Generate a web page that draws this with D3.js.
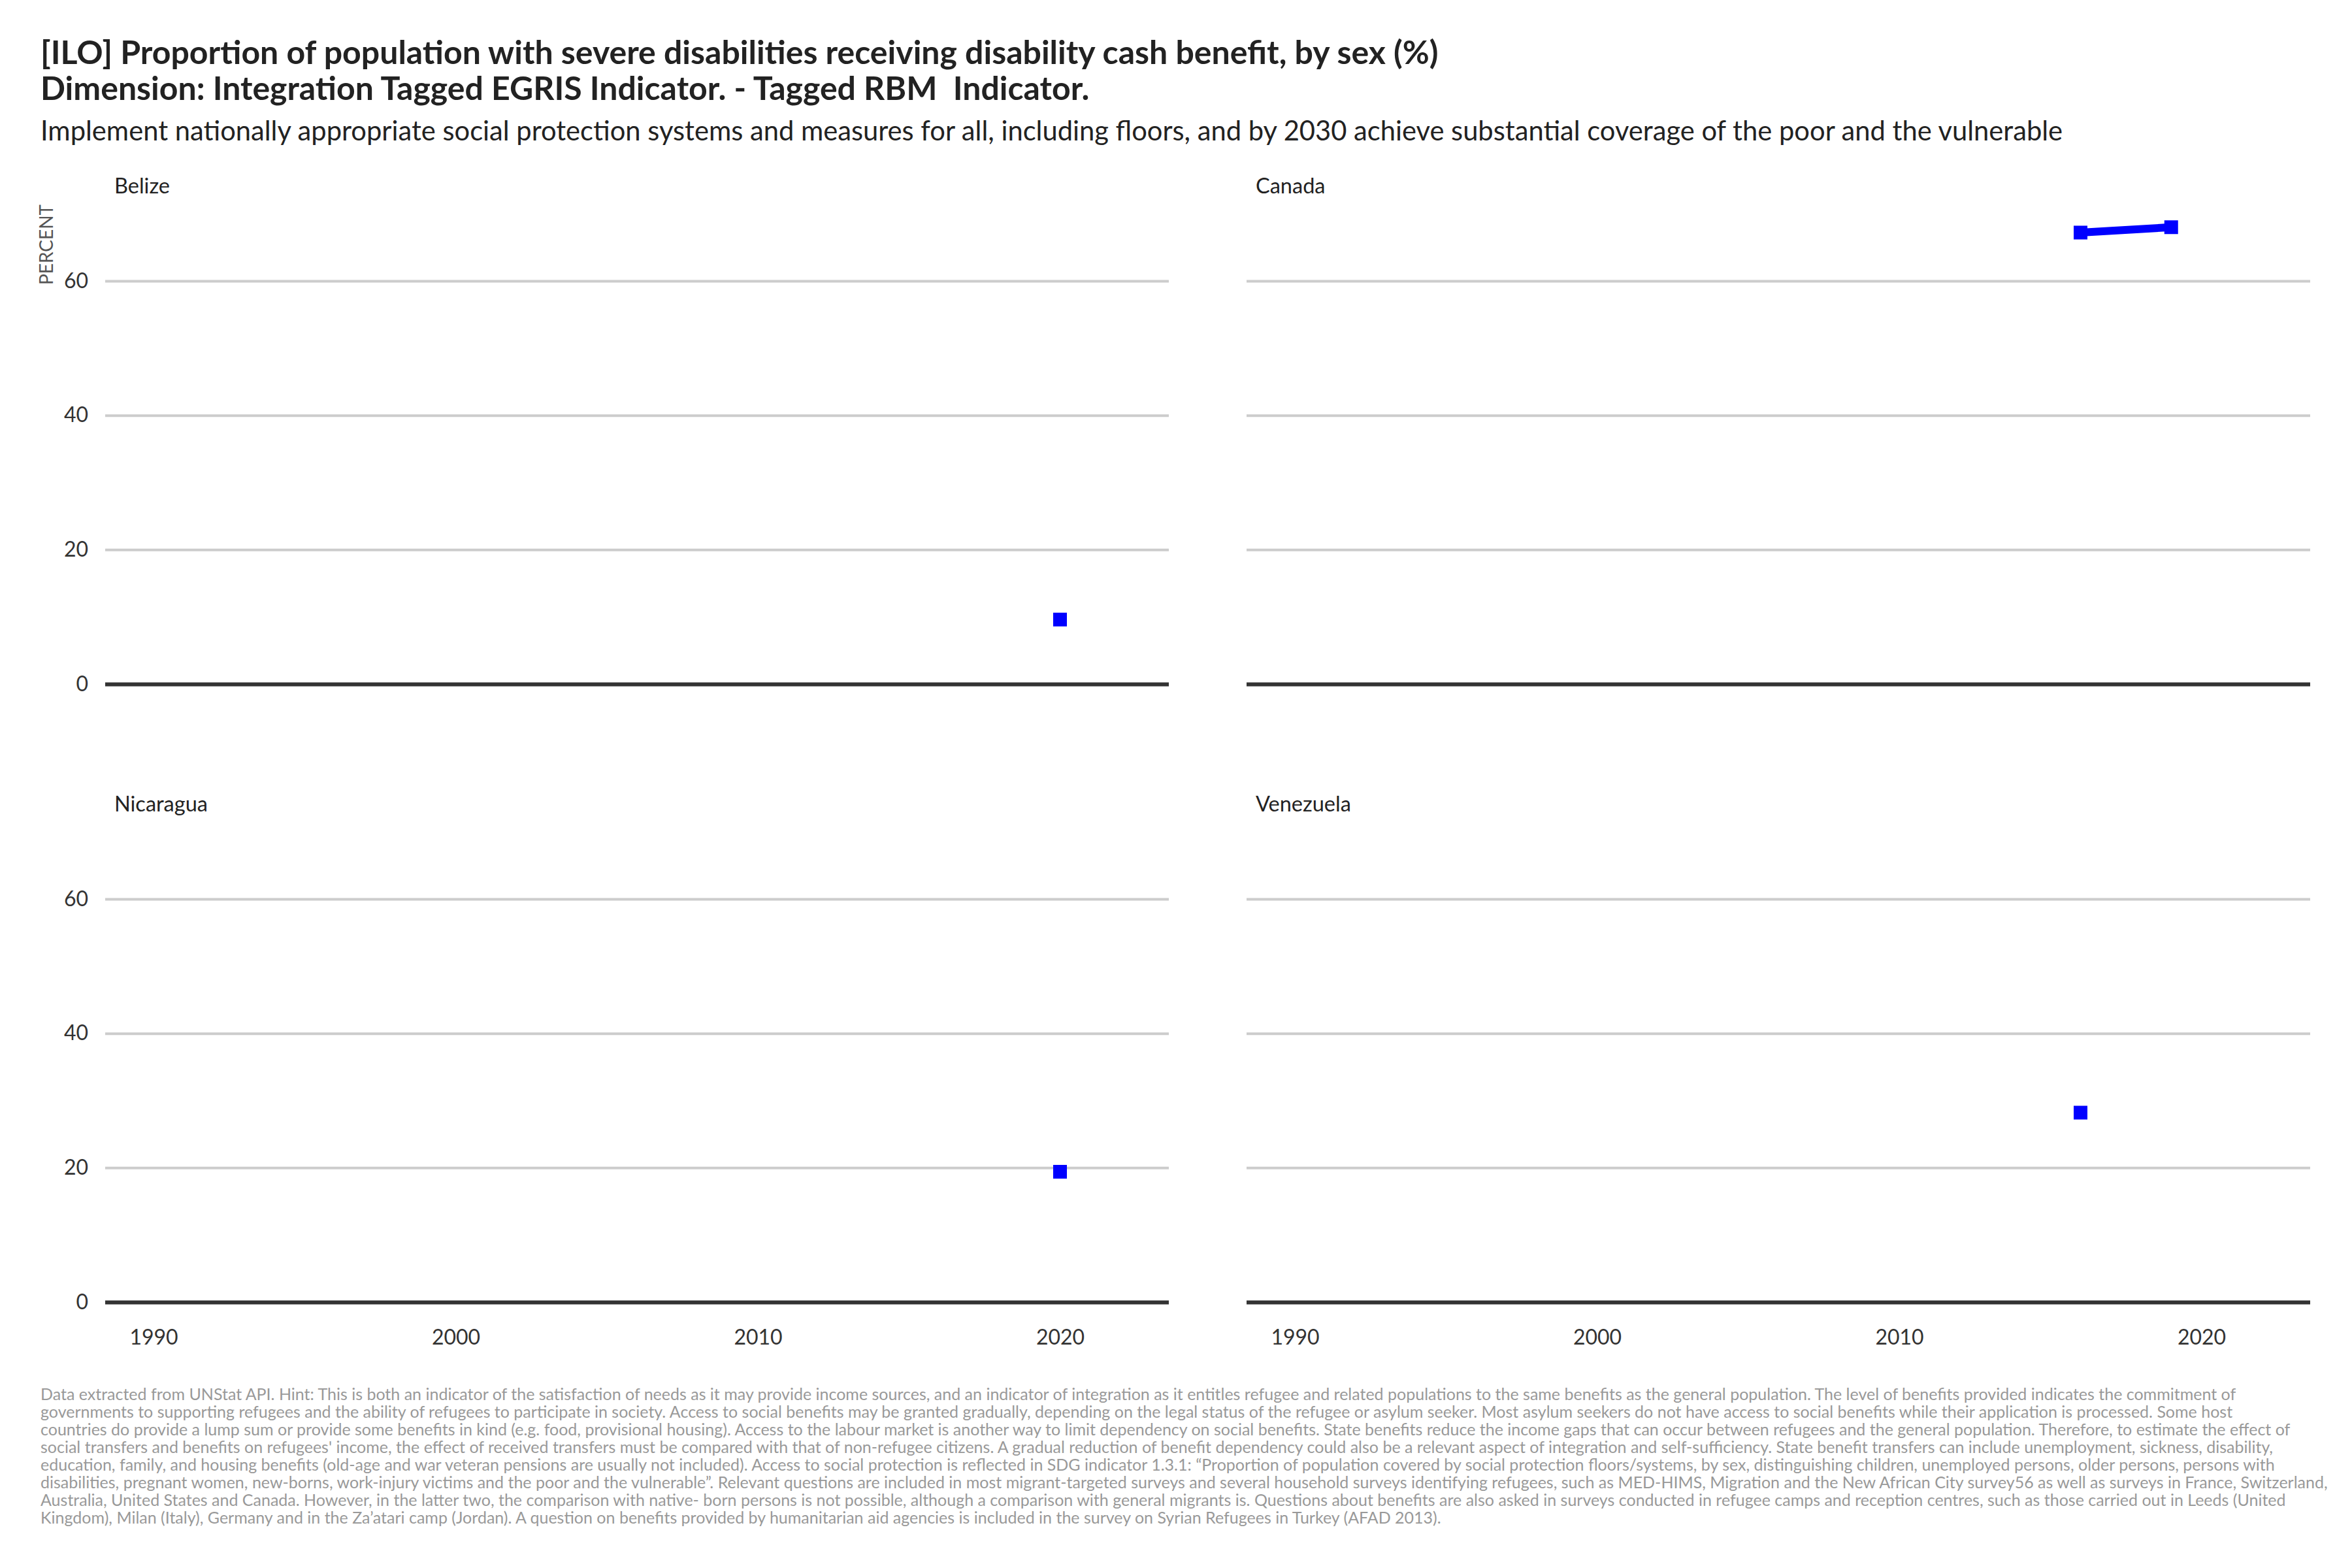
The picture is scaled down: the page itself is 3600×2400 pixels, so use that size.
<!DOCTYPE html>
<html><head><meta charset="utf-8">
<script src="https://cdn.jsdelivr.net/npm/d3@7"></script>
<style>
body{margin:0;background:#fff;}
svg{font-family:Lato, "Noto Sans", sans-serif;}
text{white-space:pre;}
</style></head>
<body>
<script>
const titleLines = ["[ILO] Proportion of population with severe disabilities receiving disability cash benefit, by sex (%)",
  "Dimension: Integration Tagged EGRIS Indicator. - Tagged RBM  Indicator."];
const subtitle = "Implement nationally appropriate social protection systems and measures for all, including floors, and by 2030 achieve substantial coverage of the poor and the vulnerable";
const yLabel = "PERCENT";
const countries = ["Belize", "Canada", "Nicaragua", "Venezuela"];
const belizeYears = [2020];        const belizeValues = [9.6];
const canadaYears = [2016, 2019];  const canadaValues = [67.2, 68.0];
const nicaraguaYears = [2020];     const nicaraguaValues = [19.4];
const venezuelaYears = [2016];     const venezuelaValues = [28.2];
const yTicks = [0, 20, 40, 60];
const xTicks = [1990, 2000, 2010, 2020];
const xDomain = [1990, 2022];
const yDomain = [0, 71.4];
const captionLines = [
"Data extracted from UNStat API. Hint: This is both an indicator of the satisfaction of needs as it may provide income sources, and an indicator of integration as it entitles refugee and related populations to the same benefits as the general population. The level of benefits provided indicates the commitment of",
"governments to supporting refugees and the ability of refugees to participate in society. Access to social benefits may be granted gradually, depending on the legal status of the refugee or asylum seeker. Most asylum seekers do not have access to social benefits while their application is processed. Some host",
"countries do provide a lump sum or provide some benefits in kind (e.g. food, provisional housing). Access to the labour market is another way to limit dependency on social benefits. State benefits reduce the income gaps that can occur between refugees and the general population. Therefore, to estimate the effect of",
"social transfers and benefits on refugees' income, the effect of received transfers must be compared with that of non-refugee citizens. A gradual reduction of benefit dependency could also be a relevant aspect of integration and self-sufficiency. State benefit transfers can include unemployment, sickness, disability,",
"education, family, and housing benefits (old-age and war veteran pensions are usually not included). Access to social protection is reflected in SDG indicator 1.3.1: \u201cProportion of population covered by social protection floors/systems, by sex, distinguishing children, unemployed persons, older persons, persons with",
"disabilities, pregnant women, new-borns, work-injury victims and the poor and the vulnerable\u201d. Relevant questions are included in most migrant-targeted surveys and several household surveys identifying refugees, such as MED-HIMS, Migration and the New African City survey56 as well as surveys in France, Switzerland,",
"Australia, United States and Canada. However, in the latter two, the comparison with native- born persons is not possible, although a comparison with general migrants is. Questions about benefits are also asked in surveys conducted in refugee camps and reception centres, such as those carried out in Leeds (United",
"Kingdom), Milan (Italy), Germany and in the Za\u2019atari camp (Jordan). A question on benefits provided by humanitarian aid agencies is included in the survey on Syrian Refugees in Turkey (AFAD 2013)."
];

const W = 3600, H = 2400;
const svg = d3.select("body").append("svg").attr("width", W).attr("height", H);
svg.append("rect").attr("width", W).attr("height", H).attr("fill", "#fff");

// titles
svg.append("text").attr("x", 62).attr("y", 98).attr("font-size", 50).attr("font-weight", 700).attr("fill", "#222").text(titleLines[0]);
svg.append("text").attr("x", 62).attr("y", 153).attr("font-size", 50).attr("font-weight", 700).attr("fill", "#222").text(titleLines[1]);
svg.append("text").attr("x", 62).attr("y", 215).attr("font-size", 41.7).attr("fill", "#222").text(subtitle);

const panelW = 1628;
const panels = [
  {name: countries[0], years: belizeYears, values: belizeValues, x0: 161, y0: 1047, col: 0, row: 0},
  {name: countries[1], years: canadaYears, values: canadaValues, x0: 1908, y0: 1047, col: 1, row: 0},
  {name: countries[2], years: nicaraguaYears, values: nicaraguaValues, x0: 161, y0: 1993, col: 0, row: 1},
  {name: countries[3], years: venezuelaYears, values: venezuelaValues, x0: 1908, y0: 1993, col: 1, row: 1}
];
const pxPerUnit = 10.283;
const panelH = (yDomain[1] - yDomain[0]) * pxPerUnit;

panels.forEach(p => {
  const span = xDomain[1] - xDomain[0];
  const x = d3.scaleLinear().domain([xDomain[0] - 0.05 * span, xDomain[1] + 0.05 * span]).range([0, panelW]);
  const y = d3.scaleLinear().domain(yDomain).range([panelH, 0]);
  const g = svg.append("g").attr("transform", `translate(${p.x0},${p.y0 - panelH})`);

  const yAxis = d3.axisLeft(y).tickValues(yTicks).tickSize(-panelW).tickPadding(26)
    .tickFormat(p.col === 0 ? d3.format("d") : () => "");
  const ya = g.append("g").call(yAxis);
  ya.select(".domain").remove();
  ya.selectAll(".tick line")
    .attr("stroke", d => d === 0 ? "#333333" : "#cccccc").attr("stroke-width", d => d === 0 ? 6 : 4);
  ya.selectAll(".tick text").attr("font-size", 32).attr("fill", "#333").attr("font-family", "Lato");

  if (p.row === 1) {
    const xa = g.append("g").attr("transform", `translate(0,${panelH})`)
      .call(d3.axisBottom(x).tickValues(xTicks).tickSize(0).tickPadding(42).tickFormat(d3.format("d")));
    xa.select(".domain").remove();
    xa.selectAll(".tick text").attr("font-size", 32).attr("fill", "#333").attr("font-family", "Lato");
  }

  g.append("text").attr("x", 14).attr("y", -17).attr("font-size", 32.5).attr("fill", "#222").text(p.name);

  const pts = p.years.map((yr, i) => [yr, p.values[i]]);
  if (pts.length > 1) {
    g.append("path").datum(pts).attr("fill", "none").attr("stroke", "#0000ff").attr("stroke-width", 12)
      .attr("d", d3.line().x(d => x(d[0])).y(d => y(d[1])));
  }
  g.selectAll("rect.pt").data(pts).join("rect").attr("class", "pt")
    .attr("x", d => x(d[0]) - 10.5).attr("y", d => y(d[1]) - 10.5)
    .attr("width", 21).attr("height", 21).attr("fill", "#0000ff");
});

svg.append("text").attr("transform", "translate(81,436) rotate(-90)").attr("font-size", 28)
  .attr("fill", "#555").attr("text-anchor", "start").text(yLabel);

svg.append("g").selectAll("text").data(captionLines).join("text")
  .attr("x", 62).attr("y", (d, i) => 2143 + i * 27).attr("font-size", 25).attr("fill", "#999").text(d => d);
</script>
</body></html>
